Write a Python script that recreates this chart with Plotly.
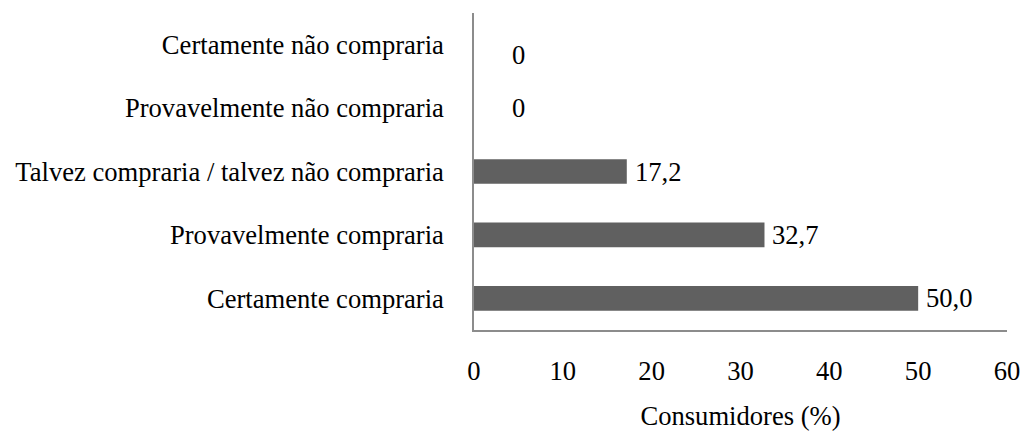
import plotly.graph_objects as go

categories = [
    "Certamente compraria",
    "Provavelmente compraria",
    "Talvez compraria / talvez não compraria",
    "Provavelmente não compraria",
    "Certamente não compraria",
]
values = [50.0, 32.7, 17.2, 0, 0]
value_labels = ["50,0", "32,7", "17,2", "0", "0"]
x_ticks = [0, 10, 20, 30, 40, 50, 60]

FONT = "Liberation Serif, Times New Roman, serif"
FS = 26.6
BAR_COLOR = "#606060"
AXIS_COLOR = "#8c8c8c"

fig = go.Figure()
fig.add_trace(go.Bar(
    y=categories,
    x=values,
    orientation="h",
    marker=dict(color=BAR_COLOR, line=dict(width=0)),
    width=0.39,
    hoverinfo="skip",
))

annotations = []
for cat, v, lab in zip(categories, values, value_labels):
    annotations.append(dict(
        x=v, y=cat, xref="x", yref="y",
        text=lab, showarrow=False,
        xanchor="left", yanchor="middle",
        xshift=36 if v == 0 else 6,
        yshift=-10 if cat == "Certamente não compraria" else 0,
        font=dict(family=FONT, size=FS, color="black"),
    ))

fig.update_layout(
    template="none",
    width=1023, height=433,
    margin=dict(l=474, r=16, t=13, b=103, pad=0),
    paper_bgcolor="white",
    plot_bgcolor="white",
    showlegend=False,
    font=dict(family=FONT, size=FS, color="black"),
    annotations=annotations,
    xaxis=dict(
        range=[0, 60],
        tickvals=x_ticks,
        ticktext=[str(t) for t in x_ticks],
        showgrid=False,
        zeroline=False,
        showline=True,
        linecolor=AXIS_COLOR,
        linewidth=1.5,
        ticks="",
        automargin=False,
        ticklabelstandoff=16,
        tickfont=dict(family=FONT, size=FS, color="black"),
        title=dict(text="Consumidores (%)", standoff=22,
                   font=dict(family=FONT, size=FS, color="black")),
        fixedrange=True,
    ),
    yaxis=dict(
        categoryorder="array",
        categoryarray=categories,
        showgrid=False,
        zeroline=False,
        showline=True,
        linecolor=AXIS_COLOR,
        linewidth=1.5,
        ticks="",
        automargin=False,
        ticklabelstandoff=23,
        tickfont=dict(family=FONT, size=FS, color="black"),
        fixedrange=True,
    ),
)

fig.write_html("out.html")
